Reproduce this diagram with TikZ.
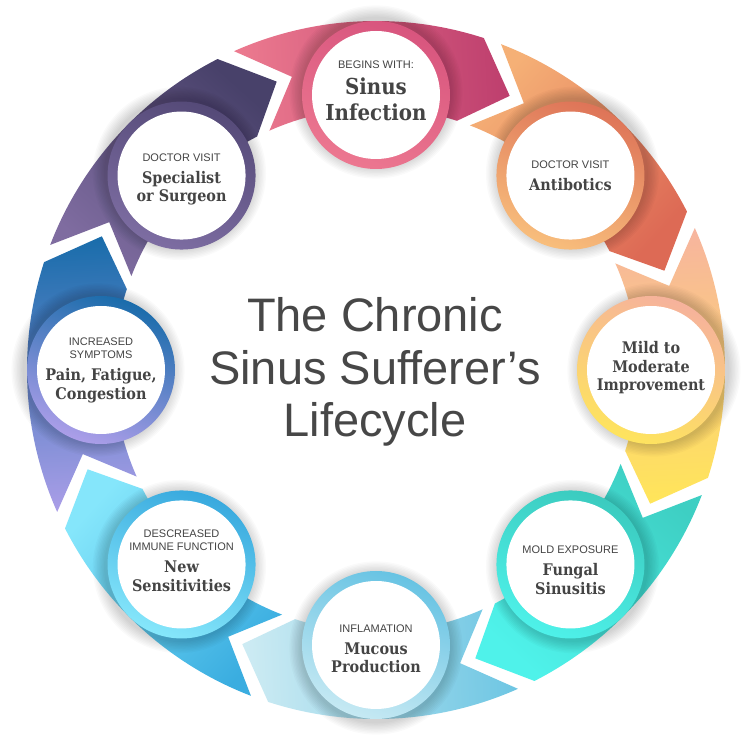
\documentclass[tikz,border=0pt]{standalone}
\usepackage{fontspec}
\setmainfont{Liberation Sans}
\newfontfamily\capfam{Liberation Sans}
\newfontfamily\slabfam[FakeStretch=0.9]{DejaVu Serif}
% segment tail / head colours
\definecolor{tA0}{HTML}{EC7A8F}\definecolor{hA0}{HTML}{BE3F6E}
\definecolor{tA1}{HTML}{F5B076}\definecolor{hA1}{HTML}{DD6A55}
\definecolor{tA2}{HTML}{F7B59E}\definecolor{hA2}{HTML}{FFE55A}
\definecolor{tA3}{HTML}{3ECFC3}\definecolor{hA3}{HTML}{4FF2EA}
\definecolor{tA4}{HTML}{6EC6E3}\definecolor{hA4}{HTML}{CDEBF3}
\definecolor{tA5}{HTML}{3AADE0}\definecolor{hA5}{HTML}{85E6FB}
\definecolor{tA6}{HTML}{A99DE7}\definecolor{hA6}{HTML}{1A6DAB}
\definecolor{tA7}{HTML}{7F6CA0}\definecolor{hA7}{HTML}{48416A}
% circle ring dark / light colours
\definecolor{dC0}{HTML}{D8557E}\definecolor{lC0}{HTML}{EC7790}
\definecolor{dC1}{HTML}{DE7458}\definecolor{lC1}{HTML}{F8BE7C}
\definecolor{dC2}{HTML}{F6B29C}\definecolor{lC2}{HTML}{FEE45E}
\definecolor{dC3}{HTML}{3BCBBF}\definecolor{lC3}{HTML}{4EF1E9}
\definecolor{dC4}{HTML}{67C3E3}\definecolor{lC4}{HTML}{C6E9F3}
\definecolor{dC5}{HTML}{38A9DE}\definecolor{lC5}{HTML}{86E7FB}
\definecolor{dC6}{HTML}{1A6CAB}\definecolor{lC6}{HTML}{AC9EE9}
\definecolor{dC7}{HTML}{554A78}\definecolor{lC7}{HTML}{7D6DA2}
\definecolor{txt}{HTML}{444444}
\definecolor{titlegray}{HTML}{474747}
\newcommand\capl[1]{{\capfam\mdseries\fontsize{11}{13}\selectfont #1}}
\begin{document}
\begin{tikzpicture}[x=1pt,y=1pt,
  circtext/.style={align=center, text=txt, inner sep=0pt,
    font=\slabfam\bfseries\fontsize{16}{18.5}\selectfont},
  bigtext/.style={circtext, font=\slabfam\bfseries\fontsize{22}{25.5}\selectfont},
  maintitle/.style={align=center, text=titlegray, inner sep=0pt,
    font=\fontsize{47}{52.5}\selectfont}]
\useasboundingbox (0,0) rectangle (748,748);
\fill[white] (0,0) rectangle (748,748);
\begin{scope}[shift={(376,378)}]
  \foreach \i/\tc/\hc in {0/tA0/hA0,1/tA1/hA1,2/tA2/hA2,3/tA3/hA3,4/tA4/hA4,5/tA5/hA5,6/tA6/hA6,7/tA7/hA7}{
    \pgfmathsetmacro\c{93-45*\i}
    \shade[left color=\tc, right color=\hc, shading angle=\c]
      (\c+21:349) arc[start angle=\c+21, end angle=\c-21, radius=349]
      -- (\c-29:305) -- (\c-21:262)
      arc[start angle=\c-21, end angle=\c+21, radius=262]
      -- (\c+13:305) -- cycle;
  }
  \foreach \i in {0,...,7}{
    \coordinate (p\i) at (90-45*\i:275);
    \coordinate (s\i) at (90-45*\i:278);
  }
\end{scope}
% circle shadows
\foreach \i in {0,...,7}{
  \foreach \k in {1,...,9}{
    \fill[black, opacity=0.018] (s\i) circle[radius=74+\k*1.4];
  }
}
% circles
\foreach \i in {0,...,7}{
  \shade[top color=dC\i, bottom color=lC\i, shading angle=-20] (p\i) circle[radius=74];
  \fill[white] (p\i) circle[radius=64];
}
% texts
\node[bigtext, yshift=4pt] (n0) at (p0) {\capl{BEGINS WITH:}\\[0.5pt]Sinus\\Infection};
\node[circtext] (n1) at (p1) {\capl{DOCTOR VISIT}\\[3.5pt]Antibotics};
\node[circtext, yshift=2pt] (n2) at (p2) {Mild to\\Moderate\\Improvement};
\node[circtext, yshift=-6pt] (n3) at (p3) {\capl{MOLD EXPOSURE}\\[3.5pt]Fungal\\Sinusitis};
\node[circtext, yshift=-4pt] (n4) at (p4) {\capl{INFLAMATION}\\[3.5pt]Mucous\\Production};
\node[circtext, yshift=4pt] (n5) at (p5) {\capl{DESCREASED}\\[-5pt]\capl{IMMUNE FUNCTION}\\[3.5pt]New\\Sensitivities};
\node[circtext] (n6) at (p6) {\capl{INCREASED}\\[-5pt]\capl{SYMPTOMS}\\[3.5pt]Pain, Fatigue,\\Congestion};
\node[circtext, yshift=-4pt] (n7) at (p7) {\capl{DOCTOR VISIT}\\[3.5pt]Specialist\\or Surgeon};
\node[maintitle] (title) at (375,376) {The Chronic\\Sinus Sufferer’s\\Lifecycle};
\end{tikzpicture}
\end{document}
